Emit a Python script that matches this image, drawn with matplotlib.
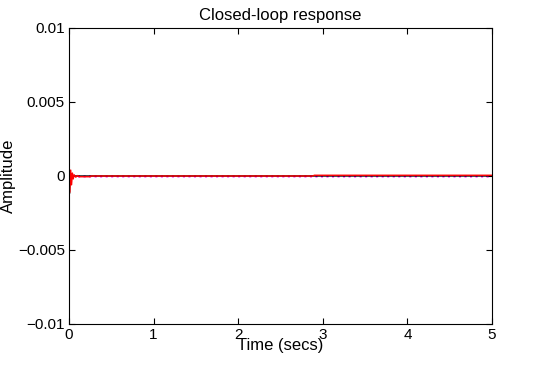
import numpy as np
import matplotlib.pyplot as plt

plt.rcParams['font.family'] = ['Liberation Sans', 'DejaVu Sans']

# closed-loop response traces
t_black = [0.0, 0.005, 0.01, 0.02, 0.05, 5.0]
y_black = [0.0, -0.0012, -0.0004, 0.0, 0.0, 0.0]

t_red = [0.0, 0.01, 0.02, 0.03, 0.04, 0.05, 0.06, 0.08, 0.10, 0.12, 0.25, 0.26, 2.88, 2.90, 5.0]
y_red = [0.0, -0.0011, 0.0004, -0.0006, 0.0002, -0.0002, 0.00008, -0.00008, 0.00003,
         -0.00005, -0.00005, 0.0, 0.0, 0.00005, 0.00005]

t_mag = [0.0, 0.02, 0.04, 0.06, 0.1, 5.0]
y_mag = [0.0, 0.0001, -0.00005, 0.00002, -0.00003, -0.00003]

xticks = [0, 1, 2, 3, 4, 5]
yticks = [-0.01, -0.005, 0, 0.005, 0.01]
ytick_labels = ['\u22120.01', '\u22120.005', '0', '0.005', '0.01']

fig = plt.figure(figsize=(5.46, 3.66), dpi=100)
ax = fig.add_axes([0.1264, 0.1148, 0.7747, 0.8087])

ax.plot(t_mag, y_mag, color='#ff00ff', linestyle=':', linewidth=1.5)
ax.plot(t_black, y_black, color='black', linewidth=1)
ax.plot(t_red, y_red, color='red', linewidth=1)

ax.set_xlim(0, 5)
ax.set_ylim(-0.01, 0.01)
ax.set_xticks(xticks)
ax.set_yticks(yticks)
ax.set_yticklabels(ytick_labels)
ax.tick_params(direction='in', top=True, right=True, labelsize=11, length=4, pad=3)

ax.set_title('Closed-loop response', fontsize=12, pad=6)
ax.set_xlabel('Time (secs)', fontsize=12, labelpad=-3)
ax.set_ylabel('Amplitude', fontsize=12, labelpad=1)

fig.savefig('out.png', dpi=100)
